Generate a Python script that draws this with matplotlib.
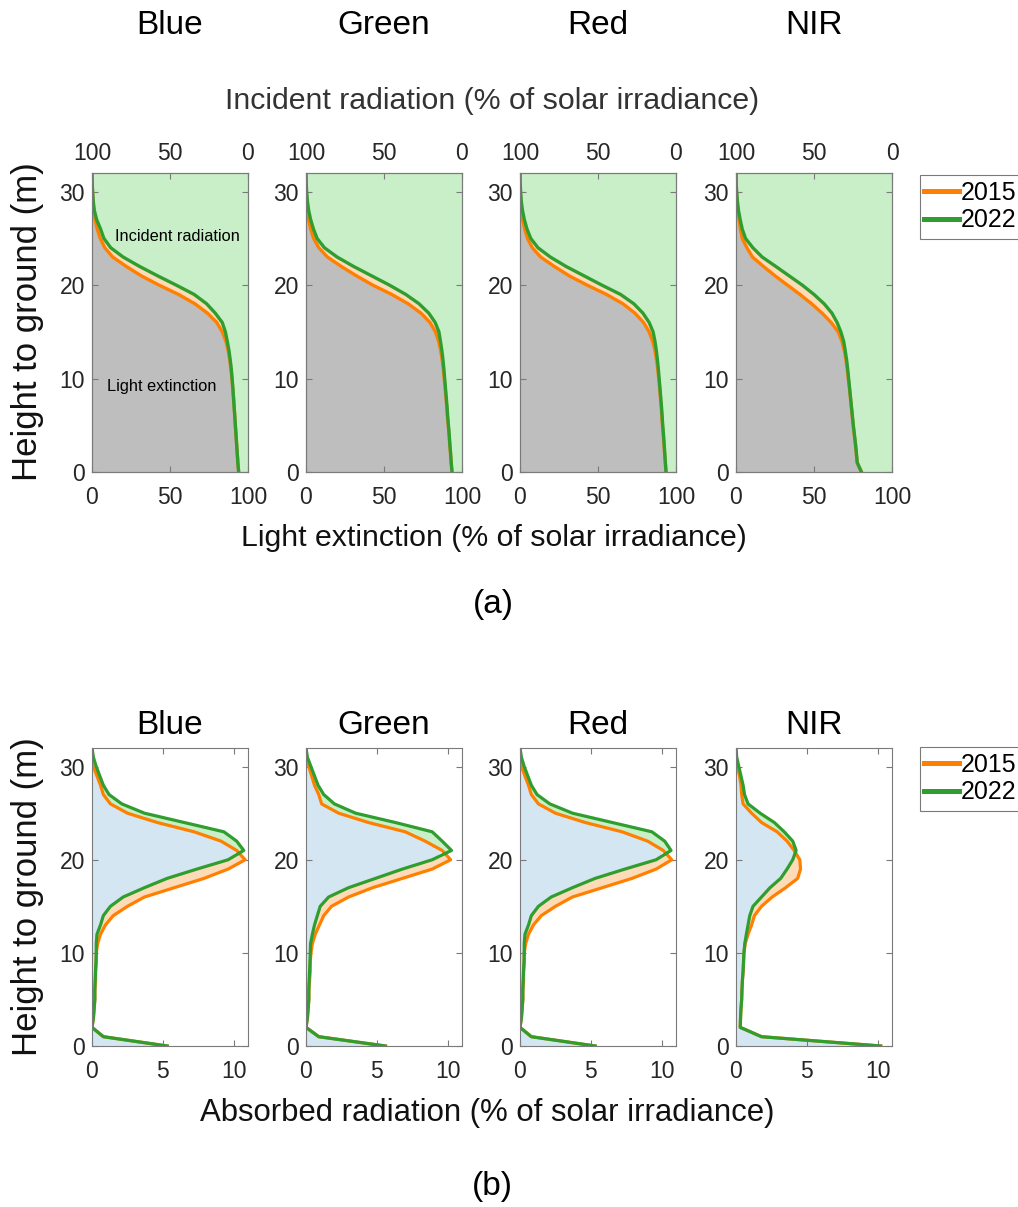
import numpy as np
import matplotlib
matplotlib.use("Agg")
import matplotlib.pyplot as plt
from matplotlib.lines import Line2D
from matplotlib.patches import Rectangle

plt.rcParams['font.family'] = ['Liberation Sans', 'DejaVu Sans']

bands = ["Blue", "Green", "Red", "NIR"]
years = ["2015", "2022"]
heights = np.arange(0, 33)  # m, 0..32

# light extinction (% of solar irradiance), cumulative from canopy top
ext_2015 = {
    "Blue": [94, 93.5, 93.1, 92.7, 92.3, 91.9, 91.5, 91.1, 90.7, 90.2, 89.7, 89.1, 88.3, 87.3, 85.8, 83.5,
             80, 74, 66, 55.5, 43, 31.5, 22, 13.3, 8.2, 5.3, 3.3, 2, 1.1, 0.6, 0.3, 0.1, 0],
    "Green": [93.6, 93.0, 92.6, 92.1, 91.7, 91.2, 90.6, 90.2, 89.7, 89.2, 88.6, 88, 87.3, 86.3, 85, 83,
              79.5, 73.7, 65.5, 55, 42.8, 32.3, 22.6, 13.8, 8.2, 4.9, 3, 1.6, 0.8, 0.4, 0.2, 0.05, 0],
    "Red": [93.6, 93.1, 92.7, 92.3, 91.8, 91.3, 90.9, 90.5, 90, 89.5, 88.9, 88.3, 87.5, 86.5, 85, 82.8,
            79.2, 73.7, 66, 55.5, 43, 31.5, 22, 13.3, 7.9, 4.8, 3, 1.7, 0.9, 0.5, 0.2, 0.05, 0],
    "NIR": [80.4, 77.7, 77.1, 76.5, 75.8, 75.1, 74.5, 73.9, 73.3, 72.7, 72, 71.3, 70.5, 69.4, 67.9, 65.5,
            61, 55.2, 48.5, 41, 33, 25, 17.6, 10.6, 7, 4.0, 2.8, 2, 1.2, 0.6, 0.3, 0.1, 0],
}
ext_2022 = {
    "Blue": [94, 93.5, 93.1, 92.7, 92.3, 91.9, 91.5, 91.1, 90.7, 90.3, 89.8, 89.3, 88.6, 87.8, 86.7, 85.5,
             83.5, 79, 73.5, 65.5, 54, 42, 30.5, 20, 12, 7.6, 5.5, 3, 1.5, 0.8, 0.4, 0.1, 0],
    "Green": [93.6, 93.1, 92.7, 92.2, 91.8, 91.3, 90.8, 90.4, 89.9, 89.4, 88.9, 88.4, 87.8, 87.1, 86.2, 85.2,
              82.8, 78.7, 72.5, 64, 53.5, 42, 30.5, 20, 11.8, 7.1, 4.8, 3, 1.7, 0.9, 0.4, 0.1, 0],
    "Red": [93.6, 93.2, 92.8, 92.4, 92, 91.5, 91.1, 90.7, 90.2, 89.7, 89.2, 88.7, 88.1, 87.4, 86.5, 85.3,
            82.8, 78.8, 73, 64.5, 52.5, 41, 29.5, 19.5, 11.5, 6.9, 4.5, 2.8, 1.6, 0.8, 0.4, 0.1, 0],
    "NIR": [80.4, 77.7, 77.2, 76.6, 75.9, 75.2, 74.6, 74, 73.4, 72.8, 72.2, 71.6, 70.9, 70, 69, 67.2,
            64.8, 61.5, 56.5, 50, 42.5, 34, 25.5, 16.8, 10.8, 6.1, 4, 2.7, 1.6, 0.9, 0.4, 0.1, 0],
}

# absorbed radiation per layer (% of solar irradiance)
abs_2015 = {
    "Blue": [5.3, 0.8, 0.0, 0.1, 0.15, 0.2, 0.2, 0.25, 0.25, 0.3, 0.3, 0.4, 0.6, 0.95, 1.5, 2.5,
             3.7, 5.8, 7.9, 9.6, 10.8, 10.2, 9.1, 7.2, 4.6, 2.5, 1.3, 0.8, 0.6, 0.35, 0.1, 0.0, 0],
    "Green": [5.6, 0.9, 0.0, 0.1, 0.15, 0.2, 0.2, 0.25, 0.3, 0.3, 0.35, 0.45, 0.65, 0.95, 1.25, 1.8,
              3.0, 4.7, 6.8, 8.9, 10.2, 9.6, 8.4, 7.0, 4.4, 2.3, 1.1, 0.9, 0.6, 0.4, 0.2, 0.05, 0],
    "Red": [5.3, 0.8, 0.0, 0.1, 0.15, 0.2, 0.2, 0.25, 0.25, 0.3, 0.3, 0.4, 0.6, 0.95, 1.5, 2.5,
            3.7, 5.8, 7.9, 9.6, 10.7, 10.1, 9.0, 7.2, 4.6, 2.5, 1.3, 0.8, 0.6, 0.35, 0.1, 0.0, 0],
    "NIR": [10.2, 1.8, 0.3, 0.32, 0.35, 0.4, 0.42, 0.45, 0.5, 0.53, 0.56, 0.65, 0.85, 1.1, 1.3, 1.8,
            2.55, 3.5, 4.35, 4.55, 4.5, 4.1, 3.6, 2.9, 1.8, 1.1, 0.5, 0.4, 0.35, 0.25, 0.1, 0.03, 0],
}
abs_2022 = {
    "Blue": [5.3, 0.8, 0.0, 0.1, 0.15, 0.2, 0.2, 0.22, 0.25, 0.28, 0.3, 0.3, 0.35, 0.6, 0.8, 1.3,
             2.2, 3.7, 5.3, 7.4, 9.6, 10.7, 10.2, 9.3, 6.5, 3.7, 2.1, 1.2, 0.8, 0.55, 0.3, 0.1, 0],
    "Green": [5.6, 0.9, 0.0, 0.1, 0.15, 0.2, 0.2, 0.22, 0.25, 0.28, 0.3, 0.32, 0.45, 0.6, 0.8, 1.0,
              1.6, 3.0, 4.9, 6.8, 8.9, 10.26, 9.6, 8.9, 6.3, 3.5, 2.0, 1.25, 0.85, 0.6, 0.35, 0.1, 0],
    "Red": [5.3, 0.8, 0.0, 0.1, 0.15, 0.2, 0.2, 0.22, 0.25, 0.28, 0.3, 0.3, 0.35, 0.6, 0.8, 1.3,
            2.2, 3.7, 5.3, 7.4, 9.6, 10.65, 10.2, 9.3, 6.5, 3.7, 2.1, 1.2, 0.8, 0.55, 0.3, 0.1, 0],
    "NIR": [10.2, 1.8, 0.3, 0.32, 0.35, 0.4, 0.42, 0.45, 0.5, 0.53, 0.56, 0.62, 0.73, 0.85, 0.97, 1.2,
            1.8, 2.4, 3.15, 3.6, 4.0, 4.24, 4.0, 3.4, 2.7, 1.7, 0.85, 0.6, 0.5, 0.35, 0.2, 0.05, 0],
}

C15 = '#FF8000'
C22 = '#2F9E2F'
GREEN_FILL = '#C8EFC8'
GRAY_FILL = '#BEBEBE'
PEACH = '#FDDBB9'
BLUE_FILL = '#D4E6F1'
SPINE = '#7a7a7a'
TXT = '#262626'

fig = plt.figure(figsize=(10.18, 12.07), dpi=100)
W, H = 1018., 1207.
lefts = [92, 306, 520, 736]
aw = 156

def style(ax, top=True):
    for s in ax.spines.values():
        s.set_color(SPINE)
        s.set_linewidth(0.8)
    ax.tick_params(direction='in', length=4, width=0.8, color=SPINE, labelcolor=TXT,
                   labelsize=16.5, right=True, top=top)
    ax.tick_params(axis='x', pad=10)
    ax.tick_params(axis='y', pad=5)

######## (a) light extinction
for i, b in enumerate(bands):
    ax = fig.add_axes([lefts[i] / W, 1 - 472 / H, aw / W, 299 / H])
    e15 = np.array(ext_2015[b])
    e22 = np.array(ext_2022[b])
    ax.fill_betweenx(heights, 0, e15, color=GRAY_FILL, lw=0)
    ax.fill_betweenx(heights, e15, e22, color=PEACH, lw=0)
    ax.fill_betweenx(heights, e22, 100, color=GREEN_FILL, lw=0)
    ax.plot(e15, heights, color=C15, lw=2.4, solid_joinstyle='round')
    ax.plot(e22, heights, color=C22, lw=2.4, solid_joinstyle='round')
    ax.set_xlim(0, 100)
    ax.set_ylim(0, 32)
    ax.set_xticks([0, 50, 100])
    ax.set_yticks([0, 10, 20, 30])
    style(ax, top=False)
    ax2 = ax.twiny()
    ax2.set_xlim(100, 0)
    ax2.set_xticks([100, 50, 0])
    style(ax2)
    ax2.tick_params(axis='x', pad=5.5)
    if i == 0:
        ax.text(14.5, 25.2, "Incident radiation", fontsize=11.8, va='center')
        ax.text(9.5, 9.1, "Light extinction", fontsize=11.8, va='center')
    fig.text((lefts[i] + aw / 2) / W, 1 - 26 / H, b, fontsize=24, ha='center', va='center')

fig.text(492 / W, 1 - 101 / H, "Incident radiation (% of solar irradiance)", fontsize=21.8,
         ha='center', va='center', color='#333333')
fig.text(494 / W, 1 - 538 / H, "Light extinction (% of solar irradiance)", fontsize=21.8,
         ha='center', va='center', color='#111111')
fig.text(28 / W, 1 - 322 / H, "Height to ground (m)", fontsize=25, rotation=90,
         ha='center', va='center', color='#111111')
fig.text(493 / W, 1 - 604 / H, "(a)", fontsize=24, ha='center', va='center')

######## (b) absorbed radiation
for i, b in enumerate(bands):
    ax = fig.add_axes([lefts[i] / W, 1 - 1046 / H, aw / W, 298 / H])
    a15 = np.array(abs_2015[b])
    a22 = np.array(abs_2022[b])
    ax.fill_betweenx(heights, 0, np.minimum(a15, a22), color=BLUE_FILL, lw=0)
    ax.fill_betweenx(heights, a15, a22, where=a22 >= a15, interpolate=True, color=GREEN_FILL, lw=0)
    ax.fill_betweenx(heights, a15, a22, where=a15 >= a22, interpolate=True, color=PEACH, lw=0)
    ax.plot(a15, heights, color=C15, lw=2.3, solid_joinstyle='round')
    ax.plot(a22, heights, color=C22, lw=2.3, solid_joinstyle='round')
    ax.set_xlim(0, 11)
    ax.set_ylim(0, 32)
    ax.set_xticks([0, 5, 10])
    ax.set_yticks([0, 10, 20, 30])
    style(ax)
    fig.text((lefts[i] + aw / 2) / W, 1 - 726 / H, b, fontsize=24, ha='center', va='center')

fig.text(487 / W, 1 - 1113 / H, "Absorbed radiation (% of solar irradiance)", fontsize=22.4,
         ha='center', va='center', color='#111111')
fig.text(28 / W, 1 - 897 / H, "Height to ground (m)", fontsize=25, rotation=90,
         ha='center', va='center', color='#111111')
fig.text(492 / W, 1 - 1187 / H, "(b)", fontsize=24, ha='center', va='center')

# legends: box runs off the right edge of the figure, as in the original
handles = [Line2D([], [], color=C15, lw=3.6), Line2D([], [], color=C22, lw=3.6)]
for ytop in (175, 747):
    box = Rectangle((920 / W, 1 - (ytop + 64) / H), 130 / W, 64 / H, transform=fig.transFigure,
                    facecolor='white', edgecolor=SPINE, lw=0.8, zorder=1)
    fig.patches.append(box)
    fig.legend(handles, years, loc='upper left', bbox_to_anchor=(921 / W, 1 - (ytop + 3) / H),
               fontsize=18, frameon=False, handlelength=1.4, handletextpad=0.1,
               borderpad=0.1, labelspacing=0.15, borderaxespad=0)

plt.savefig('out.png', dpi=100)
